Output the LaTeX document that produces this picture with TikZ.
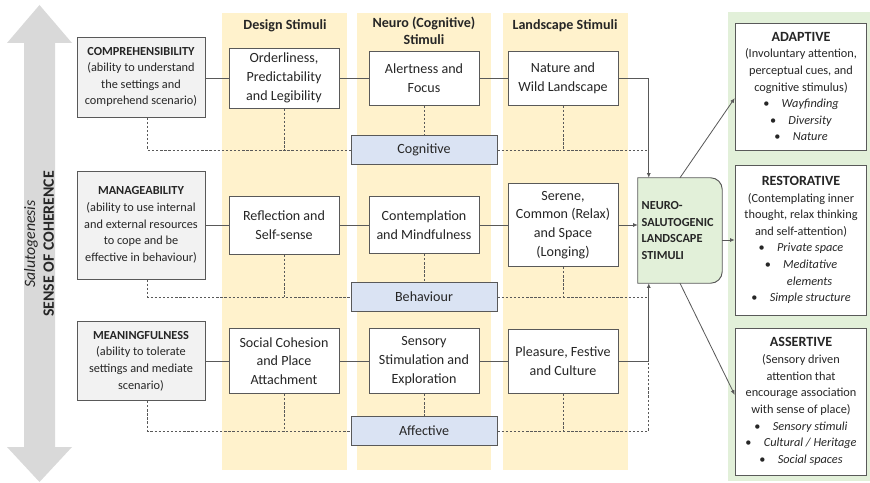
\documentclass[tikz,border=0pt]{standalone}
\usepackage{fontspec}
\setmainfont{Carlito}
\usetikzlibrary{arrows.meta,backgrounds}
\definecolor{colyellow}{HTML}{FFF2CC}
\definecolor{lblblue}{HTML}{DAE3F3}
\definecolor{outgreen}{HTML}{E2F0D9}
\definecolor{boxgrey}{HTML}{F2F2F2}
\definecolor{arrowgrey}{HTML}{D9D9D9}
\definecolor{edgegrey}{HTML}{595959}
\definecolor{txt}{HTML}{262626}

\begin{document}
\begin{tikzpicture}[x=0.03cm, y=-0.03cm,
    small/.style={font=\fontsize{10.5}{14.2}\selectfont},
    big/.style={font=\fontsize{12}{16}\selectfont},
    sense/.style={small, draw=edgegrey, fill=boxgrey, line width=0.8pt, align=center, minimum width=3.84cm, inner sep=2pt, text=txt},
    stim/.style={big, draw=edgegrey, fill=white, line width=0.8pt, align=center, minimum width=3.3cm, inner sep=2pt, text=txt},
    dom/.style={big, draw=edgegrey, fill=lblblue, line width=0.8pt, minimum width=4.38cm, minimum height=0.87cm, inner sep=1pt, text=txt},
    outcome/.style={small, draw=edgegrey, fill=white, line width=0.8pt, align=center, minimum width=3.95cm, inner sep=2pt, text=txt},
    head/.style={font=\fontsize{12}{15}\selectfont\bfseries, align=center, text=txt},
    neuro/.style={font=\fontsize{10.5}{14.2}\selectfont\bfseries, align=left, text width=2.3cm, inner xsep=0.11cm, minimum height=3.15cm, text=txt},
    link/.style={edgegrey, line width=0.7pt},
    dlink/.style={edgegrey, line width=0.7pt, dash pattern=on 2pt off 1.5pt},
    arr/.style={link, -{Latex[length=4pt,width=3.5pt]}}]
    \useasboundingbox (0,0) rectangle (870,483);

    \fill[arrowgrey] (39.5,5) -- (72,43) -- (55,43) -- (55,447) -- (72,447) -- (39.5,482)
        -- (7,447) -- (24,447) -- (24,43) -- (7,43) -- cycle;
    \node[rotate=90, align=center, text=txt, font=\fontsize{13.5}{16}\selectfont] (soc) at (39,244)
        {\textit{Salutogenesis}\\\textbf{SENSE OF COHERENCE}};

    \fill[colyellow] (222,13) rectangle (347,470);
    \fill[colyellow] (357,13) rectangle (491,470);
    \fill[colyellow] (503,13) rectangle (628,470);
    \fill[outgreen] (728,12) rectangle (870,481);

    \node[head] (hdesign) at (285,26) {Design Stimuli};
    \node[head] (hneuro) at (424,31) {Neuro (Cognitive)\\Stimuli};
    \node[head] (hland) at (565,26) {Landscape Stimuli};

    \node[sense, minimum height=2.4cm] (compr) at (141,77) {\textbf{COMPREHENSIBILITY}\\(ability to understand\\the settings and\\comprehend scenario)};
    \node[sense, minimum height=3.24cm] (manag) at (141,225) {\textbf{MANAGEABILITY}\\(ability to use internal\\and external resources\\to cope and be\\effective in behaviour)};
    \node[sense, minimum height=2.37cm] (meani) at (141,361) {\textbf{MEANINGFULNESS}\\(ability to tolerate\\settings and mediate\\scenario)};

    \node[stim, minimum height=1.8cm] (order) at (284,78) {Orderliness,\\Predictability\\and Legibility};
    \node[stim, minimum height=1.62cm] (alert) at (424,78) {Alertness and\\Focus};
    \node[stim, minimum height=1.62cm] (nature) at (563,78) {Nature and\\Wild Landscape};

    \node[stim, minimum height=1.74cm] (reflect) at (284,225) {Reflection and\\Self-sense};
    \node[stim, minimum height=1.71cm] (contemp) at (424,225) {Contemplation\\and Mindfulness};
    \node[stim, minimum height=2.49cm] (serene) at (563,225) {Serene,\\Common (Relax)\\and Space\\(Longing)};

    \node[stim, minimum height=1.95cm] (social) at (284,361) {Social Cohesion\\and Place\\Attachment};
    \node[stim, minimum height=1.95cm] (sensory) at (424,361) {Sensory\\Stimulation and\\Exploration};
    \node[stim, minimum height=1.92cm] (pleasure) at (563,361) {Pleasure, Festive\\and Culture};

    \node[dom] (cog) at (424,150) {Cognitive};
    \node[dom] (beh) at (424,297) {Behaviour};
    \node[dom] (aff) at (424,431) {Affective};

    \node[neuro] (neuro) at (680,230.5) {NEURO-\\SALUTOGENIC\\LANDSCAPE\\STIMULI};
    \begin{scope}[on background layer]
        \draw[edgegrey, line width=0.8pt, fill=outgreen] (neuro.south west) -- (neuro.north west)
            [rounded corners=10pt] -- (neuro.north east) -- (neuro.south east) [sharp corners] -- cycle;
    \end{scope}

    \node[outcome, minimum height=3.81cm] (adapt) at (801,86.5) {\textbf{\fontsize{12}{14.2}\selectfont ADAPTIVE}\\(Involuntary attention,\\perceptual cues, and\\cognitive stimulus)\\\textbullet\quad\textit{Wayfinding}\\\textbullet\quad\textit{Diversity}\\\textbullet\quad\textit{Nature}};
    \node[outcome, minimum height=4.5cm] (restor) at (801,240) {\textbf{\fontsize{12}{14.2}\selectfont RESTORATIVE}\\(Contemplating inner\\thought, relax thinking\\and self-attention)\\\textbullet\quad\textit{Private space}\\\textbullet\quad\textit{Meditative}\\\hspace*{1.4em}\textit{elements}\\\textbullet\quad\textit{Simple structure}};
    \node[outcome, minimum height=4.41cm] (assert) at (801,401.5) {\textbf{\fontsize{12}{14.2}\selectfont ASSERTIVE}\\(Sensory driven\\attention that\\encourage association\\with sense of place)\\\textbullet\quad\textit{Sensory stimuli}\\\textbullet\quad\textit{Cultural / Heritage}\\\textbullet\quad\textit{Social spaces}};

    \coordinate (bustop) at ([xshift=0.33cm]neuro.north west);
    \coordinate (busbot) at ([xshift=0.33cm]neuro.south west);

    \draw[link] (compr.east |- order) -- (order) -- (alert) -- (nature);
    \draw[link] (manag) -- (reflect) -- (contemp) -- (serene);
    \draw[link] (meani) -- (social) -- (sensory) -- (pleasure);
    \draw[arr] (nature) -| (bustop);
    \draw[arr] (serene) -- (serene -| neuro.west);
    \draw[arr] (pleasure) -| (busbot);

    \draw[dlink] ([xshift=0.2cm]compr.south) |- (cog);
    \draw[dlink] (order) -- (order |- cog.west);
    \draw[dlink] (alert) -- (cog);
    \draw[dlink] (nature) -- (nature |- cog.east);
    \draw[dlink] (cog) -- (cog -| bustop);

    \draw[dlink] ([xshift=0.2cm]manag.south) |- (beh);
    \draw[dlink] (reflect) -- (reflect |- beh.west);
    \draw[dlink] (contemp) -- (beh);
    \draw[dlink] (serene) -- (serene |- beh.east);
    \draw[dlink] (beh) -- (beh -| busbot);

    \draw[dlink] ([xshift=0.2cm]meani.south) |- (aff);
    \draw[dlink] (social) -- (social |- aff.west);
    \draw[dlink] (sensory) -- (aff);
    \draw[dlink] (pleasure) -- (pleasure |- aff.east);
    \draw[dlink] (aff) -| (pleasure -| busbot);

    \draw[arr] (neuro.north) -- ([yshift=-0.35cm]adapt.west);
    \draw[arr] (restor.west -| neuro.east) -- (restor.west);
    \draw[arr] (neuro.south) -- ([yshift=0.2cm]assert.west);
\end{tikzpicture}
\end{document}
